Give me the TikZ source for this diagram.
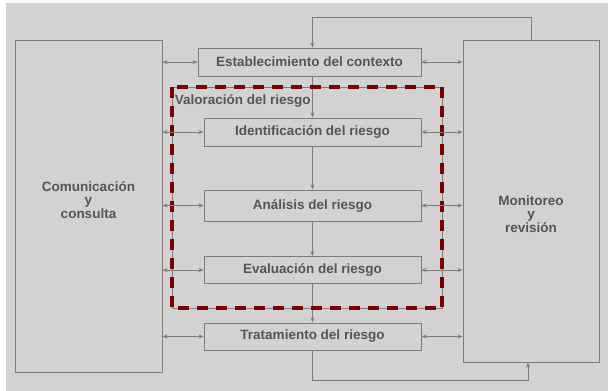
\documentclass[tikz,border=0pt]{standalone}
\usepackage{fontspec}
\setmainfont{Liberation Sans}
\usepackage{xcolor}
\usetikzlibrary{arrows.meta,positioning,calc}

\definecolor{bggray}{HTML}{D2D2D2}
\definecolor{linegray}{HTML}{7C7C7C}
\definecolor{txtgray}{HTML}{555555}
\definecolor{valred}{HTML}{7A0000}

\begin{document}
\begin{tikzpicture}[
    x=1pt, y=-1pt,
    side/.style={rectangle, draw=linegray, line width=1pt, inner sep=0pt},
    sidetext/.style={font=\bfseries\fontsize{13.5}{13.5}\selectfont, text=txtgray, align=center},
    stepbox/.style={rectangle, draw=linegray, line width=1pt, minimum width=217pt, minimum height=28pt, font=\bfseries\fontsize{13.5}{15}\selectfont, text=txtgray, inner sep=0pt},
    arrow/.style={-{Stealth[length=5pt,width=4pt]}, linegray, line width=0.8pt},
    darrow/.style={{Stealth[length=5pt,width=4pt]}-{Stealth[length=5pt,width=4pt]}, linegray, line width=0.8pt},
    label/.style={font=\bfseries\fontsize{13.5}{15}\selectfont, text=txtgray}
]

% Background
\fill[white] (0,0) rectangle (608,391);
\fill[bggray] (6,3) rectangle (608,391);

% Side boxes
\node[side, minimum width=147pt, minimum height=332pt] (com) at (88.5,206) {};
\node[sidetext] (comtext) at (88.5,200) {Comunicación\\y\\consulta};
\node[side, minimum width=136pt, minimum height=322pt] (mon) at (531,201) {};
\node[sidetext] (montext) at (531,214) {Monitoreo\\y\\revisión};

% Process steps
\node[stepbox, minimum width=223pt] (est) at (309.5,62) {Establecimiento del contexto};
\node[stepbox] (ide) at (312.5,132) {Identificación del riesgo};
\node[stepbox, minimum height=31pt] (ana) at (312.5,205.5) {Análisis del riesgo};
\node[stepbox, minimum height=27pt] (eva) at (312.5,270) {Evaluación del riesgo};
\node[stepbox, minimum height=27pt] (tra) at (312.5,336.5) {Tratamiento del riesgo};

\draw[arrow] (ide.north |- est.south) -- (ide.north);
\draw[arrow] (ide) -- (ana);
\draw[arrow] (ana) -- (eva);
\draw[arrow] (eva) -- (tra);

% Valoracion del riesgo
\node[draw=linegray, line width=0.8pt, minimum width=270pt, minimum height=221pt, inner sep=0pt] (val) at (307,197.5) {};
\draw[valred, line width=4pt, dash pattern=on 11pt off 8pt] (val.north west) rectangle (val.south east);
\node[label, anchor=north west, inner sep=1pt] at ([xshift=2pt,yshift=-7pt]val.north west) {Valoración del riesgo};

% Communication links
\foreach \n in {est,ide,ana,eva,tra} {
    \draw[darrow] (com.east |- \n.west) -- (\n.west);
    \draw[darrow] (\n.east) -- (mon.west |- \n.east);
}

% Feedback loop
\coordinate (fbtop) at (531,17);
\coordinate (fbbot) at (312.5,380);
\draw[arrow] (mon.north) -- (fbtop) -| (ide.north |- est.north);
\draw[arrow] (tra.south) -- (fbbot) -| ([xshift=-3pt]mon.south);

\end{tikzpicture}
\end{document}
